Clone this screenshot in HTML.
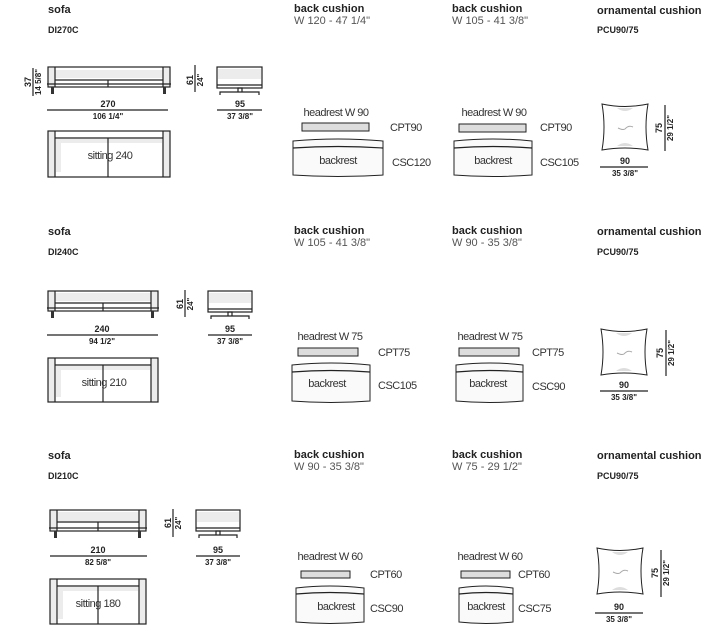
<!DOCTYPE html>
<html><head><meta charset="utf-8"><style>
html,body{margin:0;padding:0;background:#fff;width:728px;height:640px;overflow:hidden}
svg{display:block}
.h{font:bold 11px "Liberation Sans",sans-serif;fill:#222}
.c{font:bold 9px "Liberation Sans",sans-serif;fill:#222}
.w{font:11px "Liberation Sans",sans-serif;fill:#555}
.l{font:11px "Liberation Sans",sans-serif;fill:#333;letter-spacing:-0.5px}
.d{font:bold 9px "Liberation Sans",sans-serif;fill:#222}
.f{font:bold 8px "Liberation Sans",sans-serif;fill:#222}
.k{stroke:#222;fill:none;stroke-width:1.2}
.g{fill:#ececec;stroke:none}
</style></head><body>
<svg width="728" height="640" viewBox="0 0 728 640" xmlns="http://www.w3.org/2000/svg">
<defs>
<g id="pillow">
 <path d="M0 0 Q23 5 46 0 Q42 23 46 46 Q23 42 0 46 Q4 23 0 0Z" fill="#fff" stroke="#222" stroke-width="1"/>
 <path d="M15 4 Q23 10 31 4Z" fill="#ddd"/><path d="M15 42 Q23 36 31 42Z" fill="#ddd"/>
 <path d="M16 24 Q22 27 24 24 Q27 21 31 23" stroke="#aaa" fill="none"/>
</g>
</defs>

<text class="h" x="48" y="13">sofa</text><text class="c" x="48" y="33">DI270C</text>
<text class="h" x="294" y="12">back cushion</text><text class="w" x="294" y="24">W 120 - 47 1/4"</text>
<text class="h" x="452" y="12">back cushion</text><text class="w" x="452" y="24">W 105 - 41 3/8"</text>
<text class="h" x="597" y="14">ornamental cushion</text><text class="c" x="597" y="33">PCU90/75</text>

<text class="h" x="48" y="235">sofa</text><text class="c" x="48" y="255">DI240C</text>
<text class="h" x="294" y="234">back cushion</text><text class="w" x="294" y="246">W 105 - 41 3/8"</text>
<text class="h" x="452" y="234">back cushion</text><text class="w" x="452" y="246">W 90 - 35 3/8"</text>
<text class="h" x="597" y="235">ornamental cushion</text><text class="c" x="597" y="255">PCU90/75</text>

<text class="h" x="48" y="459">sofa</text><text class="c" x="48" y="479">DI210C</text>
<text class="h" x="294" y="458">back cushion</text><text class="w" x="294" y="470">W 90 - 35 3/8"</text>
<text class="h" x="452" y="458">back cushion</text><text class="w" x="452" y="470">W 75 - 29 1/2"</text>
<text class="h" x="597" y="459">ornamental cushion</text><text class="c" x="597" y="479">PCU90/75</text>

<g>
 <rect class="g" x="55" y="70" width="108" height="8"/>
 <rect class="g" x="48" y="68" width="7" height="19"/><rect class="g" x="163" y="68" width="7" height="19"/>
 <rect class="k" x="48" y="67" width="122" height="20"/>
 <line class="k" x1="55" y1="67" x2="55" y2="87"/><line class="k" x1="163" y1="67" x2="163" y2="87"/>
 <line class="k" x1="55" y1="80" x2="163" y2="80"/><line class="k" x1="108" y1="80" x2="108" y2="87"/>
 <line class="k" x1="47" y1="84" x2="171" y2="84"/>
 <rect x="51" y="87" width="3" height="7" fill="#333"/><rect x="163" y="87" width="3" height="7" fill="#333"/>
 <line class="k" x1="33" y1="68" x2="33" y2="96"/>
 <text class="d" transform="translate(31,82) rotate(-90)" text-anchor="middle">37</text>
 <text class="f" transform="translate(41,82) rotate(-90)" text-anchor="middle">14 5/8"</text>
 <rect class="g" x="218" y="69" width="43" height="10"/>
 <rect class="k" x="217" y="67" width="45" height="21"/><line class="k" x1="217" y1="85" x2="262" y2="85"/>
 <path class="k" d="M220 95 V92 H259 V95 M238 92 V88 H242 V92"/>
 <line class="k" x1="195" y1="65" x2="195" y2="92"/>
 <text class="d" transform="translate(193,80) rotate(-90)" text-anchor="middle">61</text>
 <text class="f" transform="translate(203,80) rotate(-90)" text-anchor="middle">24"</text>
 <text class="d" x="108" y="107" text-anchor="middle">270</text><line class="k" x1="47" y1="110" x2="168" y2="110"/>
 <text class="f" x="108" y="119" text-anchor="middle">106 1/4"</text>
 <text class="d" x="240" y="107" text-anchor="middle">95</text><line class="k" x1="217" y1="110" x2="262" y2="110"/>
 <text class="f" x="240" y="119" text-anchor="middle">37 3/8"</text>
 <rect class="g" x="48" y="131" width="7" height="46"/><rect class="g" x="163" y="131" width="7" height="46"/>
 <path class="g" d="M56 139 H162 V143 H61 V172 H56Z"/>
 <rect class="k" x="48" y="131" width="122" height="46"/>
 <line class="k" x1="55" y1="131" x2="55" y2="177"/><line class="k" x1="163" y1="131" x2="163" y2="177"/>
 <line class="k" x1="55" y1="138" x2="163" y2="138"/><line class="k" x1="108" y1="138" x2="108" y2="177"/>
 <text class="l" x="110" y="159" text-anchor="middle">sitting 240</text>
</g>

<g>
 <rect class="g" x="55" y="293" width="96" height="8"/>
 <rect class="g" x="48" y="291" width="7" height="19"/><rect class="g" x="151" y="291" width="7" height="19"/>
 <rect class="k" x="48" y="291" width="110" height="20"/>
 <line class="k" x1="55" y1="291" x2="55" y2="311"/><line class="k" x1="151" y1="291" x2="151" y2="311"/>
 <line class="k" x1="55" y1="303" x2="151" y2="303"/><line class="k" x1="103" y1="303" x2="103" y2="311"/>
 <line class="k" x1="47" y1="308" x2="159" y2="308"/>
 <rect x="51" y="311" width="3" height="7" fill="#333"/><rect x="151" y="311" width="3" height="7" fill="#333"/>
 <rect class="g" x="209" y="293" width="42" height="10"/>
 <rect class="k" x="208" y="291" width="44" height="21"/><line class="k" x1="208" y1="309" x2="252" y2="309"/>
 <path class="k" d="M211 319 V316 H249 V319 M228 316 V312 H232 V316"/>
 <line class="k" x1="185" y1="290" x2="185" y2="317"/>
 <text class="d" transform="translate(183,304) rotate(-90)" text-anchor="middle">61</text>
 <text class="f" transform="translate(193,304) rotate(-90)" text-anchor="middle">24"</text>
 <text class="d" x="102" y="332" text-anchor="middle">240</text><line class="k" x1="47" y1="335" x2="158" y2="335"/>
 <text class="f" x="102" y="344" text-anchor="middle">94 1/2"</text>
 <text class="d" x="230" y="332" text-anchor="middle">95</text><line class="k" x1="208" y1="335" x2="252" y2="335"/>
 <text class="f" x="230" y="344" text-anchor="middle">37 3/8"</text>
 <rect class="g" x="48" y="358" width="7" height="44"/><rect class="g" x="151" y="358" width="7" height="44"/>
 <path class="g" d="M56 366 H150 V370 H61 V397 H56Z"/>
 <rect class="k" x="48" y="358" width="110" height="44"/>
 <line class="k" x1="55" y1="358" x2="55" y2="402"/><line class="k" x1="151" y1="358" x2="151" y2="402"/>
 <line class="k" x1="55" y1="365" x2="151" y2="365"/><line class="k" x1="103" y1="365" x2="103" y2="402"/>
 <text class="l" x="104" y="386" text-anchor="middle">sitting 210</text>
</g>

<g>
 <rect class="g" x="57" y="512" width="82" height="9"/>
 <rect class="g" x="50" y="510" width="7" height="20"/><rect class="g" x="139" y="510" width="7" height="20"/>
 <rect class="k" x="50" y="510" width="96" height="21"/>
 <line class="k" x1="57" y1="510" x2="57" y2="531"/><line class="k" x1="139" y1="510" x2="139" y2="531"/>
 <line class="k" x1="57" y1="522" x2="139" y2="522"/><line class="k" x1="98" y1="522" x2="98" y2="531"/>
 <line class="k" x1="49" y1="528" x2="147" y2="528"/>
 <rect x="54" y="531" width="3" height="7" fill="#333"/><rect x="138" y="531" width="3" height="7" fill="#333"/>
 <rect class="g" x="197" y="512" width="42" height="10"/>
 <rect class="k" x="196" y="510" width="44" height="21"/><line class="k" x1="196" y1="528" x2="240" y2="528"/>
 <path class="k" d="M199 538 V535 H237 V538 M216 535 V531 H220 V535"/>
 <line class="k" x1="173" y1="509" x2="173" y2="537"/>
 <text class="d" transform="translate(171,523) rotate(-90)" text-anchor="middle">61</text>
 <text class="f" transform="translate(181,523) rotate(-90)" text-anchor="middle">24"</text>
 <text class="d" x="98" y="553" text-anchor="middle">210</text><line class="k" x1="50" y1="556" x2="147" y2="556"/>
 <text class="f" x="98" y="565" text-anchor="middle">82 5/8"</text>
 <text class="d" x="218" y="553" text-anchor="middle">95</text><line class="k" x1="196" y1="556" x2="240" y2="556"/>
 <text class="f" x="218" y="565" text-anchor="middle">37 3/8"</text>
 <rect class="g" x="50" y="579" width="7" height="45"/><rect class="g" x="139" y="579" width="7" height="45"/>
 <path class="g" d="M58 587 H138 V591 H63 V619 H58Z"/>
 <rect class="k" x="50" y="579" width="96" height="45"/>
 <line class="k" x1="57" y1="579" x2="57" y2="624"/><line class="k" x1="139" y1="579" x2="139" y2="624"/>
 <line class="k" x1="57" y1="586" x2="139" y2="586"/><line class="k" x1="98" y1="586" x2="98" y2="624"/>
 <text class="l" x="98" y="607" text-anchor="middle">sitting 180</text>
</g>

<g>
 <text class="l" x="336" y="116" text-anchor="middle">headrest W 90</text>
 <rect x="302" y="123" width="67" height="8" fill="#ddd" stroke="#222"/>
 <text class="l" x="390" y="131">CPT90</text>
 <path d="M293 141 Q338 137 383 141 V175 Q338 178 293 175Z" fill="#fafafa" stroke="#222"/>
 <path d="M293 148 Q338 145 383 148" class="k"/>
 <text class="l" x="338" y="164" text-anchor="middle">backrest</text>
 <text class="l" x="392" y="166">CSC120</text>
 <text class="l" x="494" y="116" text-anchor="middle">headrest W 90</text>
 <rect x="459" y="124" width="67" height="8" fill="#ddd" stroke="#222"/>
 <text class="l" x="540" y="131">CPT90</text>
 <path d="M454 141 Q493 137 532 141 V175 Q493 178 454 175Z" fill="#fafafa" stroke="#222"/>
 <path d="M454 148 Q493 145 532 148" class="k"/>
 <text class="l" x="493" y="164" text-anchor="middle">backrest</text>
 <text class="l" x="540" y="166">CSC105</text>
 <text class="l" x="330" y="340" text-anchor="middle">headrest W 75</text>
 <rect x="298" y="348" width="60" height="8" fill="#ddd" stroke="#222"/>
 <text class="l" x="378" y="356">CPT75</text>
 <path d="M292 365 Q331 361 370 365 V401 Q331 404 292 401Z" fill="#fafafa" stroke="#222"/>
 <path d="M292 372 Q331 369 370 372" class="k"/>
 <text class="l" x="327" y="387" text-anchor="middle">backrest</text>
 <text class="l" x="378" y="389">CSC105</text>
 <text class="l" x="490" y="340" text-anchor="middle">headrest W 75</text>
 <rect x="459" y="348" width="60" height="8" fill="#ddd" stroke="#222"/>
 <text class="l" x="532" y="356">CPT75</text>
 <path d="M456 365 Q490 361 523 365 V401 Q490 404 456 401Z" fill="#fafafa" stroke="#222"/>
 <path d="M456 372 Q490 369 523 372" class="k"/>
 <text class="l" x="488" y="387" text-anchor="middle">backrest</text>
 <text class="l" x="532" y="390">CSC90</text>
 <text class="l" x="330" y="560" text-anchor="middle">headrest W 60</text>
 <rect x="301" y="571" width="49" height="7" fill="#ddd" stroke="#222"/>
 <text class="l" x="370" y="578">CPT60</text>
 <path d="M296 588 Q330 584 364 588 V622 Q330 625 296 622Z" fill="#fafafa" stroke="#222"/>
 <path d="M296 594 Q330 591 364 594" class="k"/>
 <text class="l" x="336" y="610" text-anchor="middle">backrest</text>
 <text class="l" x="370" y="612">CSC90</text>
 <text class="l" x="490" y="560" text-anchor="middle">headrest W 60</text>
 <rect x="461" y="571" width="49" height="7" fill="#ddd" stroke="#222"/>
 <text class="l" x="518" y="578">CPT60</text>
 <path d="M459 588 Q486 584 513 588 V622 Q486 625 459 622Z" fill="#fafafa" stroke="#222"/>
 <path d="M459 594 Q486 591 513 594" class="k"/>
 <text class="l" x="486" y="610" text-anchor="middle">backrest</text>
 <text class="l" x="518" y="612">CSC75</text>
</g>

<use href="#pillow" x="602" y="104"/>
<line class="k" x1="665" y1="105" x2="665" y2="151"/>
<text class="d" transform="translate(662,128) rotate(-90)" text-anchor="middle">75</text>
<text class="f" transform="translate(673,128) rotate(-90)" text-anchor="middle">29 1/2"</text>
<text class="d" x="625" y="164" text-anchor="middle">90</text><line class="k" x1="600" y1="167" x2="648" y2="167"/>
<text class="f" x="625" y="176" text-anchor="middle">35 3/8"</text>

<use href="#pillow" x="601" y="329"/>
<line class="k" x1="666" y1="330" x2="666" y2="376"/>
<text class="d" transform="translate(663,353) rotate(-90)" text-anchor="middle">75</text>
<text class="f" transform="translate(674,353) rotate(-90)" text-anchor="middle">29 1/2"</text>
<text class="d" x="624" y="388" text-anchor="middle">90</text><line class="k" x1="600" y1="391" x2="648" y2="391"/>
<text class="f" x="624" y="400" text-anchor="middle">35 3/8"</text>

<use href="#pillow" x="597" y="548"/>
<line class="k" x1="661" y1="550" x2="661" y2="597"/>
<text class="d" transform="translate(658,573) rotate(-90)" text-anchor="middle">75</text>
<text class="f" transform="translate(669,573) rotate(-90)" text-anchor="middle">29 1/2"</text>
<text class="d" x="619" y="610" text-anchor="middle">90</text><line class="k" x1="595" y1="613" x2="643" y2="613"/>
<text class="f" x="619" y="622" text-anchor="middle">35 3/8"</text>
</svg>
</body></html>
